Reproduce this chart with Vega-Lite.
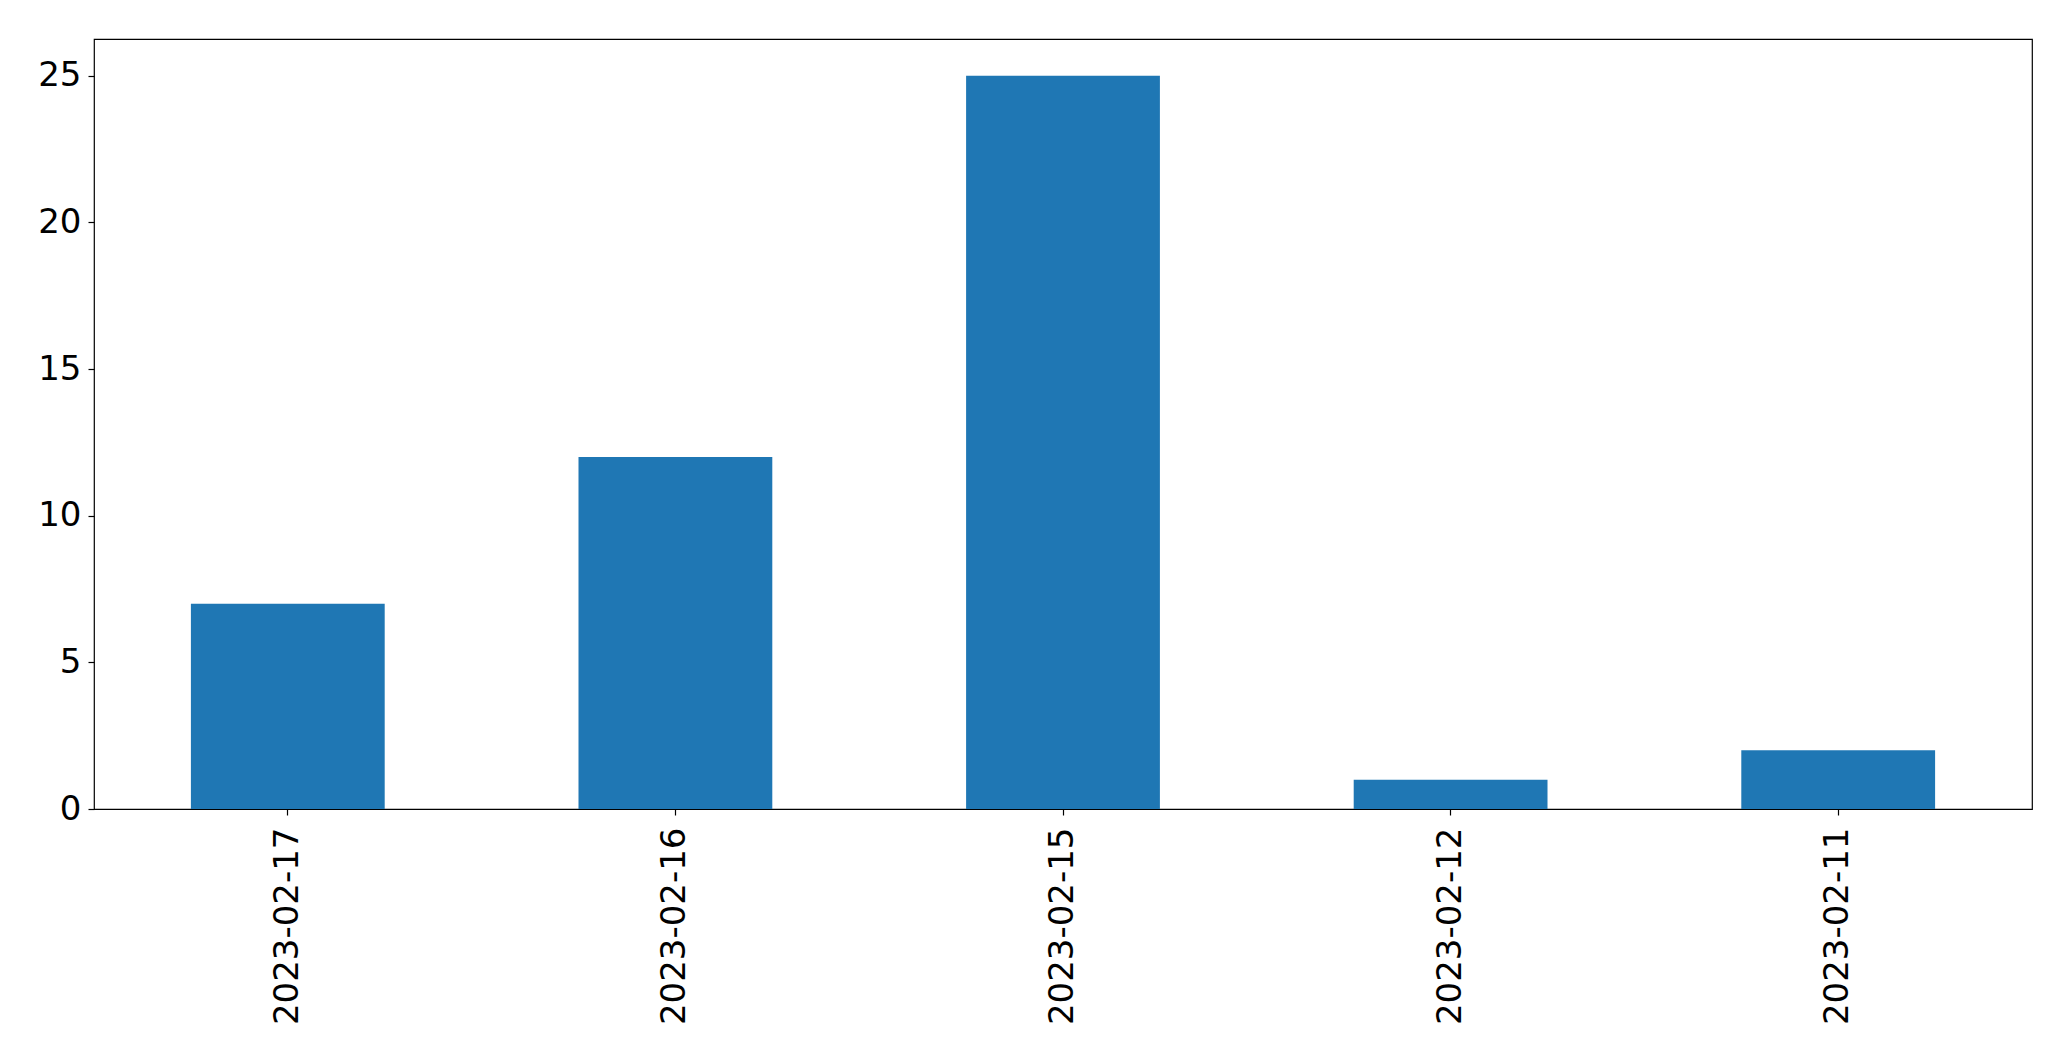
{
  "$schema": "https://vega.github.io/schema/vega-lite/v6.json",
  "autosize": {"type": "none"},
  "padding": {"left": 94, "top": 39, "right": 39, "bottom": 252},
  "width": 1938,
  "height": 770,
  "background": "white",
  "config": {
    "view": {"stroke": "black", "strokeWidth": 1.2},
    "axis": {
      "labelFont": "DejaVu Sans",
      "labelFontSize": 34,
      "labelColor": "black",
      "labelLimit": 0,
      "tickColor": "black",
      "tickSize": 6,
      "tickWidth": 1.2,
      "domain": false,
      "grid": false,
      "title": null
    }
  },
  "data": {
    "values": [
      {"date": "2023-02-17", "count": 7},
      {"date": "2023-02-16", "count": 12},
      {"date": "2023-02-15", "count": 25},
      {"date": "2023-02-12", "count": 1},
      {"date": "2023-02-11", "count": 2}
    ]
  },
  "mark": {"type": "bar", "color": "#1f77b4"},
  "encoding": {
    "x": {
      "field": "date",
      "type": "ordinal",
      "sort": null,
      "scale": {"paddingInner": 0.5, "paddingOuter": 0.25},
      "axis": {"labelAngle": -90, "labelPadding": 12, "labelAlign": "right", "labelBaseline": "middle"}
    },
    "y": {
      "field": "count",
      "type": "quantitative",
      "scale": {"domain": [0, 26.25], "nice": false},
      "axis": {"values": [0, 5, 10, 15, 20, 25], "labelPadding": 7}
    }
  }
}
